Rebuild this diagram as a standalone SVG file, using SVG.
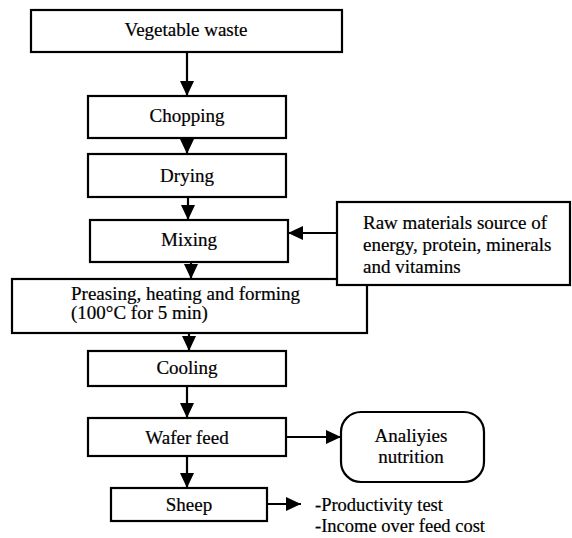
<svg xmlns="http://www.w3.org/2000/svg" width="572" height="538" viewBox="0 0 572 538">
<style>
.box{fill:#fff;stroke:#000;stroke-width:2.2}
.t{font-family:"Liberation Serif","Times New Roman","DejaVu Serif",serif;font-size:19px;fill:#000;stroke:#000;stroke-width:0.2}
.s{font-size:18.5px}
.c{text-anchor:middle}
.ln{stroke:#000;stroke-width:2.2;fill:none}
</style>
<defs>
<marker id="ah" markerUnits="userSpaceOnUse" markerWidth="15" markerHeight="14" viewBox="0 0 15 14" refX="15" refY="7" orient="auto">
<path d="M0,0 L15,7 L0,14 z" fill="#000"/>
</marker>
</defs>
<rect width="572" height="538" fill="#fff"/>
<g id="connectors">
<line class="ln" x1="187" y1="52" x2="187" y2="96" marker-end="url(#ah)"/>
<line class="ln" x1="187" y1="138" x2="187" y2="154" marker-end="url(#ah)"/>
<line class="ln" x1="188" y1="197" x2="188" y2="220" marker-end="url(#ah)"/>
<line class="ln" x1="337" y1="233" x2="288" y2="233" marker-end="url(#ah)"/>
<line class="ln" x1="191" y1="262" x2="191" y2="279" marker-end="url(#ah)"/>
<line class="ln" x1="189" y1="333" x2="189" y2="351" marker-end="url(#ah)"/>
<line class="ln" x1="187" y1="386" x2="187" y2="418" marker-end="url(#ah)"/>
<line class="ln" x1="286" y1="437" x2="341" y2="437" marker-end="url(#ah)"/>
<line class="ln" x1="187" y1="456" x2="187" y2="488" marker-end="url(#ah)"/>
<line class="ln" x1="267" y1="504" x2="301" y2="504" marker-end="url(#ah)"/>
</g>
<g id="vegetable-waste">
<rect class="box" x="31" y="10" width="311" height="42"/>
<text class="t c" x="186" y="36">Vegetable waste</text>
</g>
<g id="chopping">
<rect class="box" x="88" y="96" width="198" height="42"/>
<text class="t c" x="187" y="122">Chopping</text>
</g>
<g id="drying">
<rect class="box" x="88" y="154" width="198" height="43"/>
<text class="t c" x="187" y="182">Drying</text>
</g>
<g id="mixing">
<rect class="box" x="90" y="220" width="198" height="42"/>
<text class="t c" x="189" y="246">Mixing</text>
</g>
<g id="pressing">
<rect class="box" x="12" y="279" width="355" height="54"/>
<text class="t" x="71" y="300">Preasing, heating and forming</text>
<text class="t" x="71" y="319">(100°C for 5 min)</text>
</g>
<g id="raw-materials">
<rect class="box" x="337" y="202" width="233" height="83"/>
<text class="t" x="363" y="229">Raw materials source of</text>
<text class="t" x="363" y="251">energy, protein, minerals</text>
<text class="t" x="363" y="273">and vitamins</text>
</g>
<g id="cooling">
<rect class="box" x="88" y="351" width="198" height="35"/>
<text class="t c" x="187" y="374">Cooling</text>
</g>
<g id="wafer-feed">
<rect class="box" x="88" y="418" width="198" height="38"/>
<text class="t c" x="187" y="444">Wafer feed</text>
</g>
<g id="analysis">
<rect class="box" x="341" y="412" width="143" height="70" rx="20" ry="20"/>
<text class="t c" x="411" y="442">Analiyies</text>
<text class="t c" x="411" y="463">nutrition</text>
</g>
<g id="sheep">
<rect class="box" x="111" y="488" width="156" height="33"/>
<text class="t c" x="189" y="511">Sheep</text>
</g>
<g id="tests">
<text class="t s" x="315" y="511">-Productivity test</text>
<text class="t s" x="315" y="531.5">-Income over feed cost</text>
</g>
</svg>
